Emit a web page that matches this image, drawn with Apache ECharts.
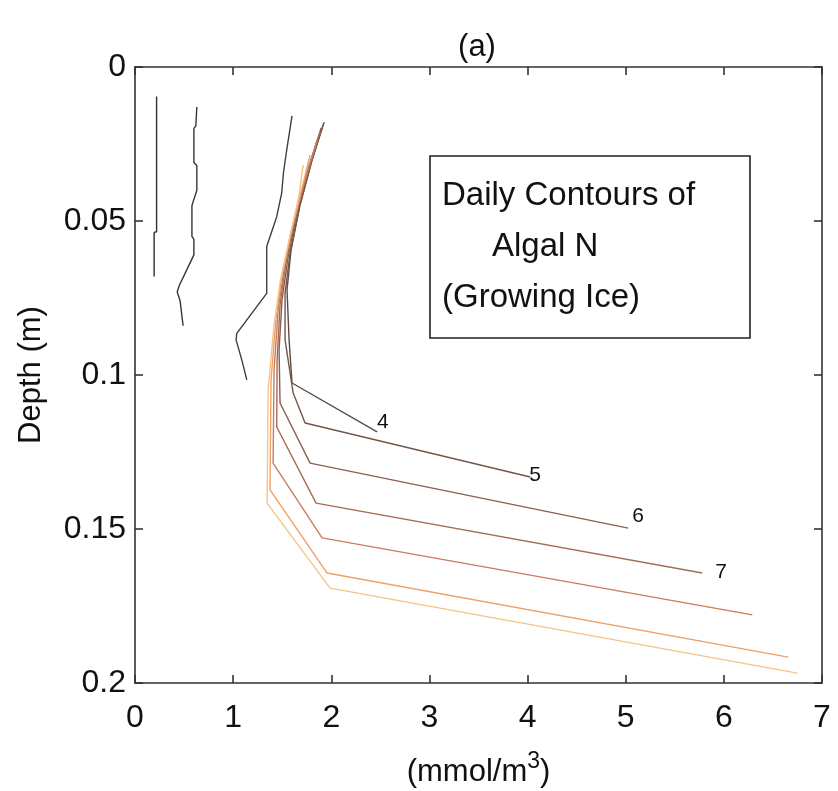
<!DOCTYPE html>
<html>
<head>
<meta charset="utf-8">
<script src="https://cdn.jsdelivr.net/npm/echarts@6/dist/echarts.min.js"></script>
<style>html,body{margin:0;padding:0;background:#fff;}#chart{width:838px;height:791px;}</style>
</head>
<body>
<div id="chart"></div>
<script>
// Tick labels
var xTickLabels = ['0', '1', '2', '3', '4', '5', '6', '7'];
var yTickLabels = ['0', '0.05', '0.1', '0.15', '0.2'];

// Contour lines: [algal N (mmol/m3), depth (m)]
var contour1 = [[0.22, 0.0096], [0.22, 0.0535], [0.195, 0.0537], [0.195, 0.068]];
var contour2 = [[0.63, 0.013], [0.62, 0.019], [0.60, 0.020], [0.60, 0.031], [0.63, 0.032], [0.63, 0.040],
  [0.58, 0.045], [0.58, 0.055], [0.60, 0.056], [0.60, 0.061], [0.45, 0.071], [0.43, 0.073], [0.46, 0.076], [0.49, 0.084]];
var contour3 = [[1.60, 0.0159], [1.546, 0.0269], [1.512, 0.0345], [1.495, 0.0409], [1.444, 0.0486], [1.342, 0.0583],
  [1.342, 0.0735], [1.037, 0.0865], [1.03, 0.0886], [1.088, 0.0951], [1.139, 0.1016]];
var contour4 = [[1.927, 0.0179], [1.804, 0.0302], [1.682, 0.0448], [1.590, 0.0594], [1.549, 0.0724], [1.570, 0.0886], [1.600, 0.1026], [2.467, 0.1185]];
var contour5 = [[1.916, 0.0188], [1.794, 0.0312], [1.672, 0.0458], [1.580, 0.0604], [1.529, 0.0734], [1.529, 0.0886], [1.611, 0.1058], [1.733, 0.1156], [4.027, 0.1331]];
var contour6 = [[1.896, 0.0198], [1.774, 0.0325], [1.651, 0.0471], [1.560, 0.0617], [1.498, 0.0756], [1.468, 0.0919], [1.478, 0.1091], [1.784, 0.1286], [5.025, 0.1497]];
var contour7 = [[1.886, 0.0211], [1.753, 0.0341], [1.631, 0.0487], [1.539, 0.0633], [1.478, 0.0773], [1.448, 0.0951], [1.444, 0.1169], [1.845, 0.1416], [5.780, 0.1643]];
var contour8 = [[1.855, 0.0237], [1.733, 0.0367], [1.611, 0.0513], [1.519, 0.0653], [1.458, 0.0789], [1.417, 0.0984], [1.407, 0.1286], [1.906, 0.1529], [6.290, 0.1779]];
var contour9 = [[1.784, 0.0286], [1.702, 0.0393], [1.590, 0.0536], [1.498, 0.0675], [1.437, 0.0815], [1.386, 0.1016], [1.376, 0.1373], [1.957, 0.1643], [6.656, 0.1916]];
var contour10 = [[1.713, 0.0318], [1.672, 0.0416], [1.570, 0.0562], [1.478, 0.0698], [1.417, 0.0838], [1.356, 0.1049], [1.346, 0.1416], [1.988, 0.1692], [6.748, 0.1968]];

var contours = [contour1, contour2, contour3, contour4, contour5, contour6, contour7, contour8, contour9, contour10];
var contourLabels = ['', '', '', '4', '5', '6', '7', '', '', ''];
var colors = ['#2e2e2e', '#363433', '#433e3b', '#5c4a43', '#725649', '#8a604f', '#a66b57', '#cb7c5e', '#eda067', '#f6c486'];
var labelOffsets = {'4': [-2, -10], '5': [-3, -2], '6': [2, -12], '7': [11, -1]};

var FONT = 'Liberation Sans';
var chart = echarts.init(document.getElementById('chart'));

var series = contours.map(function (d, i) {
  var lab = contourLabels[i];
  return {
    type: 'line',
    data: d,
    xAxisIndex: 0,
    yAxisIndex: 0,
    showSymbol: false,
    symbol: 'none',
    silent: true,
    animation: false,
    lineStyle: {color: colors[i], width: 1.4},
    endLabel: lab ? {
      show: true,
      formatter: lab,
      distance: 2,
      offset: labelOffsets[lab],
      color: '#111',
      fontFamily: FONT,
      fontSize: 21
    } : {show: false}
  };
});

var axisLine = {show: true, onZero: false, lineStyle: {color: '#333', width: 1.6}};
var axisTick = {show: true, inside: true, length: 8, lineStyle: {color: '#333', width: 1.6}};

chart.setOption({
  backgroundColor: '#fff',
  animation: false,
  title: {
    text: '(a)',
    left: 472,
    top: 27,
    textAlign: 'center',
    textStyle: {fontFamily: FONT, fontSize: 31, fontWeight: 'normal', color: '#111'}
  },
  grid: {left: 135, right: 16, top: 67, bottom: 108, containLabel: false, outerBoundsMode: 'none'},
  xAxis: [{
    type: 'value', min: 0, max: 7, interval: 1, position: 'bottom',
    axisLine: axisLine, axisTick: axisTick, splitLine: {show: false},
    axisLabel: {
      fontFamily: FONT, fontSize: 32, color: '#111', margin: 19,
      formatter: function (v, idx) { return xTickLabels[Math.round(v)]; }
    },
    name: '(mmol/m{sup|3})',
    nameLocation: 'middle',
    nameGap: 67,
    nameTextStyle: {
      fontFamily: FONT, fontSize: 31, color: '#111',
      rich: {sup: {fontFamily: FONT, fontSize: 23, color: '#111', padding: [0, 0, 22, 0]}}
    }
  }, {
    type: 'value', min: 0, max: 7, interval: 1, position: 'top',
    axisLine: axisLine, axisTick: axisTick, splitLine: {show: false},
    axisLabel: {show: false}
  }],
  yAxis: [{
    type: 'value', min: 0, max: 0.2, interval: 0.05, inverse: true, position: 'left',
    axisLine: axisLine, axisTick: axisTick, splitLine: {show: false},
    axisLabel: {
      fontFamily: FONT, fontSize: 32, color: '#111', margin: 9,
      formatter: function (v) { return yTickLabels[Math.round(v / 0.05)]; }
    },
    name: 'Depth (m)',
    nameLocation: 'middle',
    nameRotate: 90,
    nameGap: 88,
    nameTextStyle: {fontFamily: FONT, fontSize: 31, color: '#111'}
  }, {
    type: 'value', min: 0, max: 0.2, interval: 0.05, inverse: true, position: 'right',
    axisLine: axisLine, axisTick: axisTick, splitLine: {show: false},
    axisLabel: {show: false}
  }],
  graphic: [{
    type: 'rect',
    shape: {x: 430, y: 156, width: 320, height: 182},
    style: {fill: '#fff', stroke: '#222', lineWidth: 1.6},
    z: 10
  }, {
    type: 'text', x: 442, y: 196, z: 11,
    style: {text: 'Daily Contours of', fontFamily: FONT, fontSize: 33, fill: '#111', verticalAlign: 'middle'}
  }, {
    type: 'text', x: 492, y: 247, z: 11,
    style: {text: 'Algal N', fontFamily: FONT, fontSize: 33, fill: '#111', verticalAlign: 'middle'}
  }, {
    type: 'text', x: 442, y: 298, z: 11,
    style: {text: '(Growing Ice)', fontFamily: FONT, fontSize: 33, fill: '#111', verticalAlign: 'middle'}
  }],
  series: series
});
</script>
</body>
</html>
